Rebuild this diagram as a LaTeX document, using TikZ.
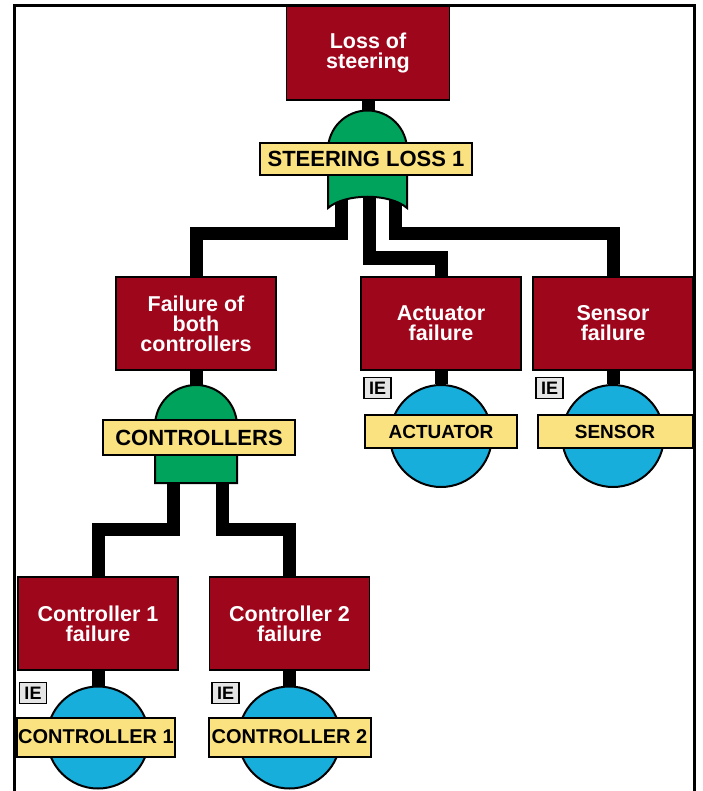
\documentclass[tikz,border=0pt]{standalone}
\usepackage{fontspec}
\setmainfont{Liberation Sans}
\usepackage{tikz}
\usetikzlibrary{calc}
\definecolor{ftred}{RGB}{158,6,28}
\definecolor{ftgreen}{RGB}{0,163,92}
\definecolor{ftblue}{RGB}{24,174,220}
\definecolor{ftyellow}{RGB}{250,226,128}
\tikzstyle{box} = [rectangle, minimum width=160pt, minimum height=93pt, text centered, align=center, draw=black, line width=1.5pt, fill=ftred, text=white, font=\fontsize{21.5}{20}\selectfont\bfseries]
\tikzstyle{gate} = [draw=black, line width=2pt, fill=ftgreen]
\tikzstyle{glabel} = [rectangle, draw=black, line width=2pt, fill=ftyellow, inner sep=0pt, font=\fontsize{22}{22}\selectfont\bfseries]
\tikzstyle{event} = [circle, draw=black, line width=2pt, fill=ftblue, minimum size=102pt, inner sep=0pt]
\tikzstyle{elabel} = [rectangle, draw=black, line width=2pt, fill=ftyellow, inner sep=0pt, minimum height=33pt, font=\fontsize{19}{19}\selectfont\bfseries]
\tikzstyle{iebox} = [rectangle, draw=black, line width=1.5pt, fill=black!10, inner sep=0pt, minimum width=27pt, minimum height=21pt, font=\fontsize{18}{18}\selectfont\bfseries]
\tikzstyle{link} = [line width=13pt, draw=black]

\begin{document}
\begin{tikzpicture}[x=1pt, y=1pt, node distance=114pt]
	\useasboundingbox (0,0) rectangle (702,-791);
	\clip (0,0) rectangle (702,-791);
	\node (T) [box, minimum width=163pt, minimum height=94pt] at (368,-53) {Loss of\\steering};
	\node (F) [box] at (196,-323.5) {Failure of\\both\\controllers};
	\node (A) [box] at (441,-323.5) {Actuator\\failure};
	\node (S) [box] at (613,-323.5) {Sensor\\failure};
	\node (C1) [box] at (98,-623.5) {Controller 1\\failure};
	\node (C2) [box] at (289.5,-623.5) {Controller 2\\failure};
	% basic events
	\node (ea) [event, below of=A, yshift=1.5pt] {};
	\node (es) [event, below of=S, yshift=1.5pt] {};
	\node (ec1) [event, below of=C1] {};
	\node (ec2) [event, below of=C2] {};
	\node (la) [elabel, minimum width=152pt] at ($(ea)+(0,4.5)$) {ACTUATOR};
	\node (ls) [elabel, minimum width=155pt] at ($(es)+(2,4.5)$) {SENSOR};
	\node (lc1) [elabel, minimum width=158pt, minimum height=39pt, font=\fontsize{20}{20}\selectfont\bfseries] at ($(ec1)+(-2,0.5)$) {CONTROLLER 1};
	\node (lc2) [elabel, minimum width=162pt, minimum height=39pt, font=\fontsize{20}{20}\selectfont\bfseries] at ($(ec2)+(0,0.5)$) {CONTROLLER 2};
	\node (iea) [iebox] at ($(ea)+(-63.5,48)$) {IE};
	\node (ies) [iebox] at ($(es)+(-63.5,48)$) {IE};
	\node (iec1) [iebox] at ($(ec1)+(-65,44.5)$) {IE};
	\node (iec2) [iebox] at ($(ec2)+(-64,44.5)$) {IE};
	% gate legs
	\coordinate (g1a) at (341,-200);
	\coordinate (g1b) at (369,-195);
	\coordinate (g1c) at (395,-200);
	\coordinate (g2a) at (173,-478);
	\coordinate (g2b) at (222,-478);
	\draw [link] (T.south) -- ++(0,-16);
	\draw [link] (g1a) -- ++(0,-34) -| (F.north);
	\draw [link] (g1b) -- ++(0,-63) -| (A.north);
	\draw [link] (g1c) -- ++(0,-34) -| (S.north);
	\draw [link] (F.south) -- ++(0,-18);
	\draw [link] (g2a) -- ++(0,-51) -| (C1.north);
	\draw [link] (g2b) -- ++(0,-51) -| (C2.north);
	\draw [link] (A.south) -- (ea.north);
	\draw [link] (S.south) -- (es.north);
	\draw [link] (C1.south) -- (ec1.north);
	\draw [link] (C2.south) -- (ec2.north);
	% gates
	\draw [gate] (328,-208) -- (328,-150) arc[start angle=180, end angle=0, radius=39.5] -- (407,-208) .. controls (390,-193) and (345,-193) .. (328,-208) -- cycle;
	\node (gl1) [glabel, minimum width=212pt, minimum height=32pt] at (366,-159) {STEERING LOSS 1};
	\draw [gate] (155,-483) -- (155,-426) arc[start angle=180, end angle=0, radius=41] -- (237,-483) -- cycle;
	\node (gl2) [glabel, minimum width=192pt, minimum height=35pt] at (199,-437.5) {CONTROLLERS};
	\draw [line width=3pt] (14,-800) -- (14,-6) -- (694.5,-6) -- (694.5,-800);
\end{tikzpicture}
\end{document}
